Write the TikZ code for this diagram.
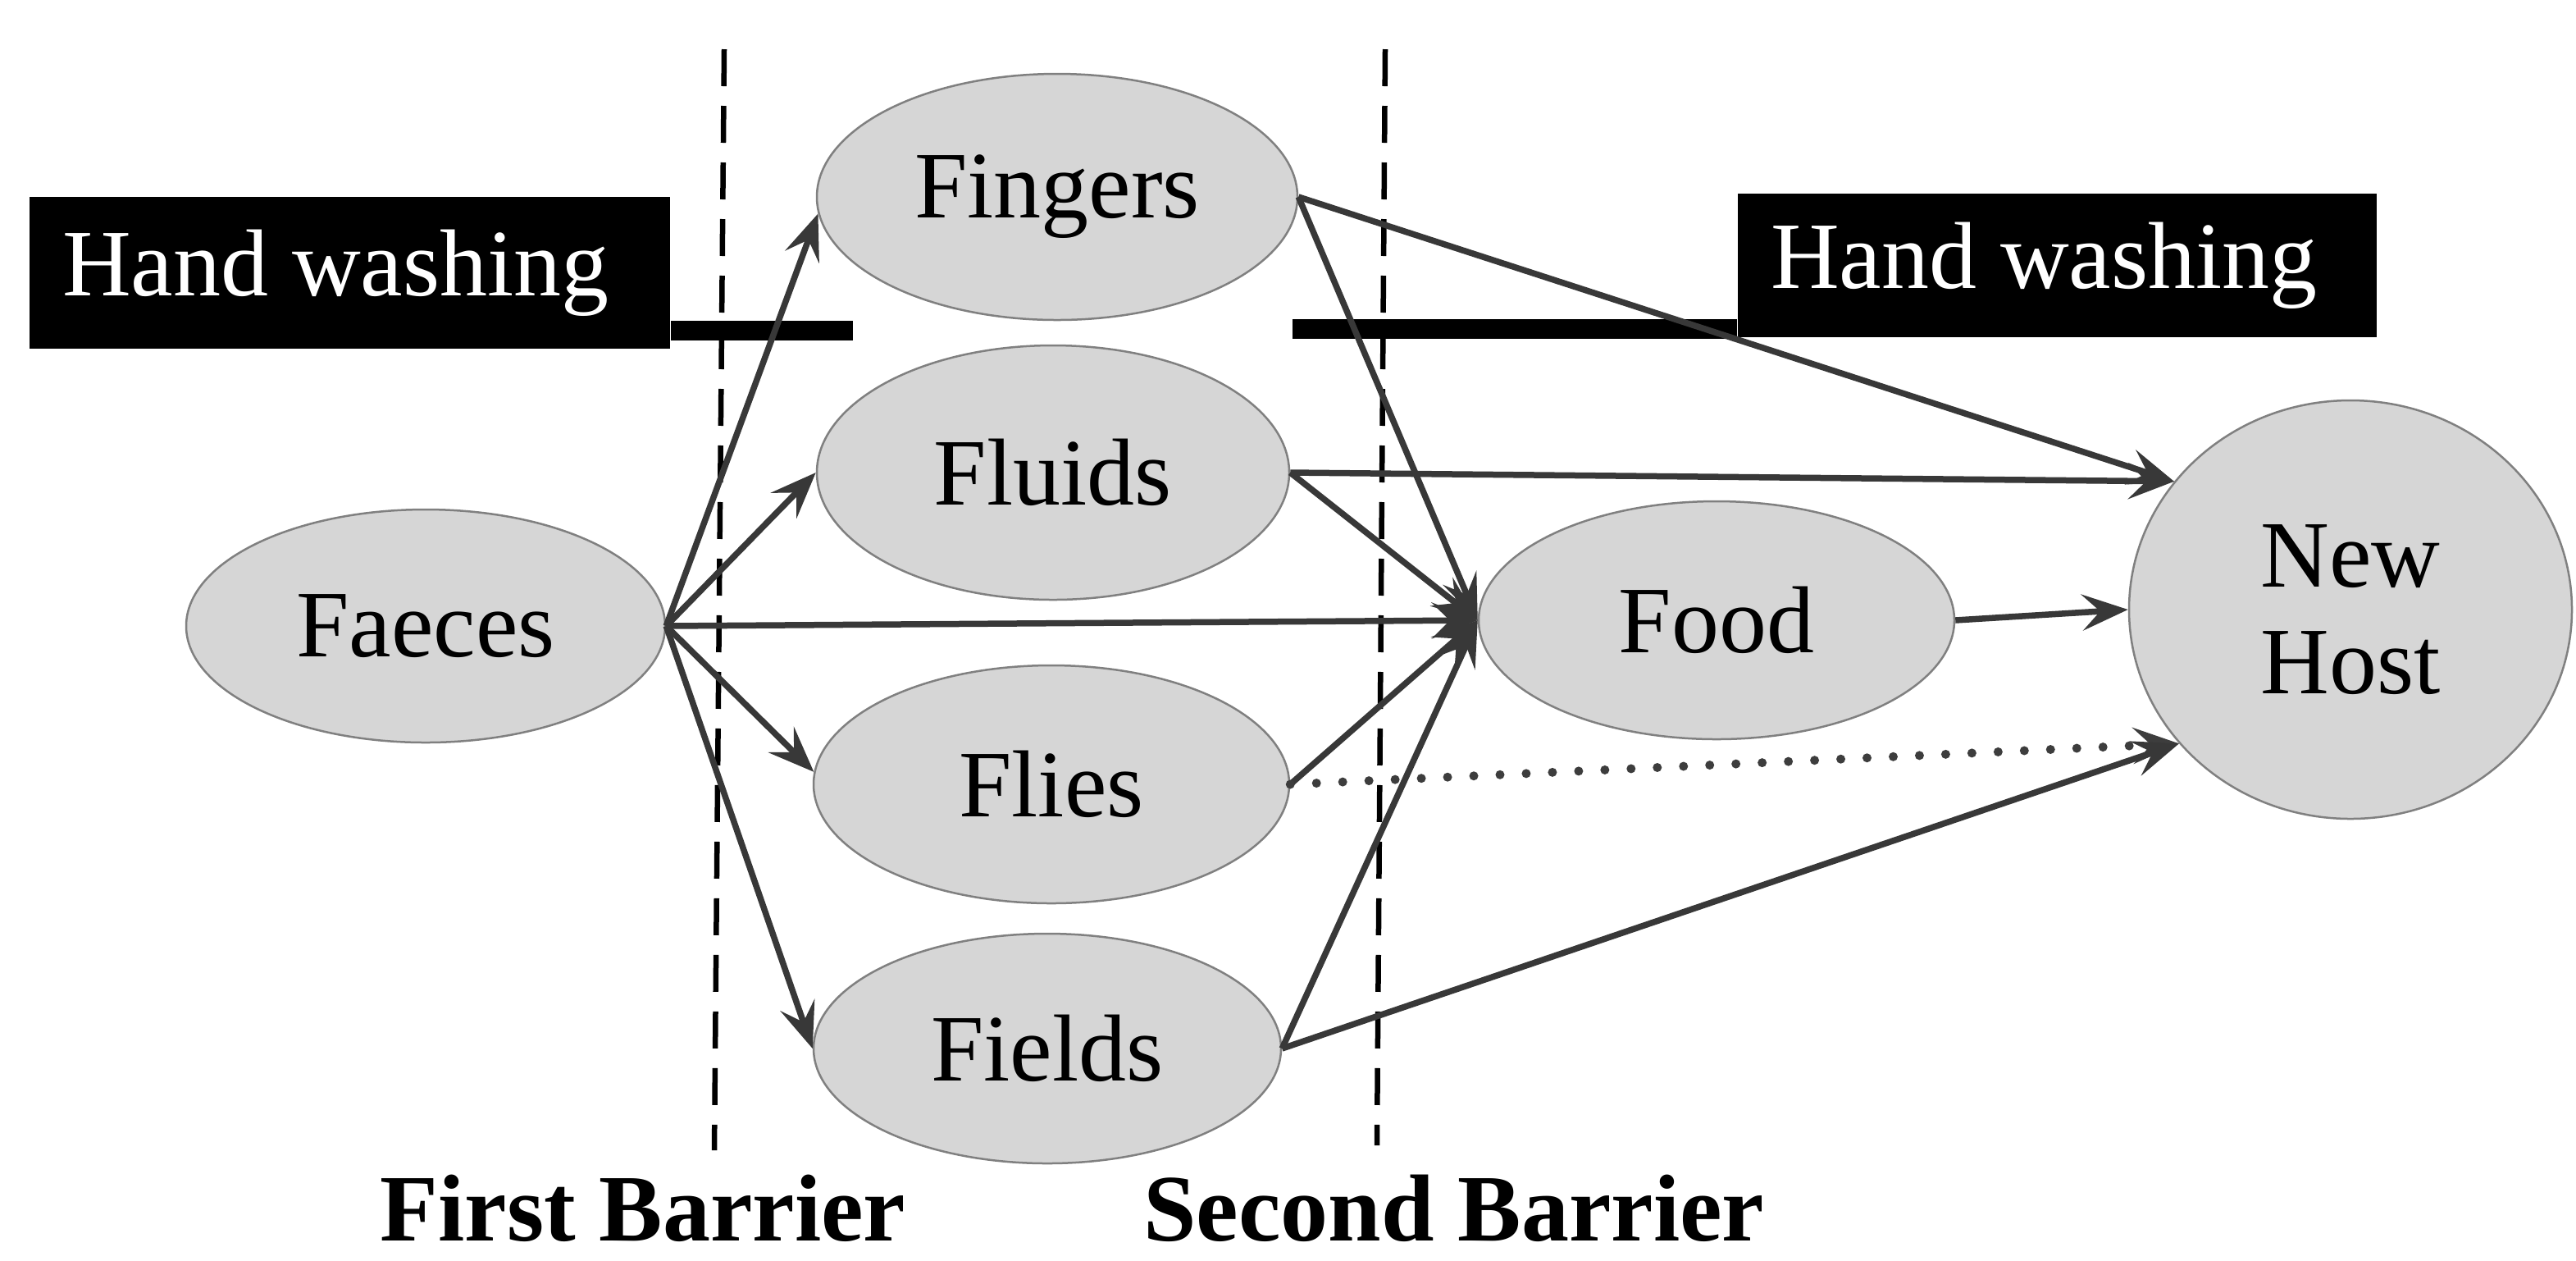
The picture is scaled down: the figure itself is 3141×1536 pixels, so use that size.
\documentclass[tikz,border=0pt]{standalone}
\usepackage{fontspec}
\setmainfont{Liberation Serif}
\usetikzlibrary{shapes.geometric,arrows.meta}
\begin{document}
\begin{tikzpicture}[x=0.1mm,y=-0.1mm,
  txt/.style={font=\fontsize{33}{37}\selectfont},
  blob/.style={ellipse, draw=black!50, line width=0.25mm, fill=black!16, inner sep=0pt, txt, align=center},
  tip/.style={-{Stealth[length=5.6mm,width=4.4mm,inset=2.2mm]}},
  conn/.style={draw=black!78, line width=0.75mm, tip},
  dotconn/.style={draw=black!76, line width=1.1mm, line cap=round, dash pattern=on 0pt off 3.2mm, tip},
  barrier/.style={draw=black, line width=0.65mm, dash pattern=on 4.5mm off 2.4mm},
  hwbox/.style={fill=black, text=white, inner ysep=0pt, inner xsep=4mm, align=flush left, txt},
  barlabel/.style={anchor=base west, font=\fontsize{33}{37}\selectfont\bfseries}]
\useasboundingbox (0,0) rectangle (3141,1536);
\fill[white] (0,0) rectangle (3141,1536);

% hand washing boxes and bars
\node[hwbox, text width=70.1mm, minimum height=18.5mm] (hw1) at (426.5,332.5) {Hand washing};
\node[hwbox, text width=69.9mm, minimum height=17.5mm] (hw2) at (2508.5,323.5) {Hand washing};
\fill[black] (hw1.east |- 0,391) rectangle (1040,415);
\fill[black] (1576,389) rectangle (hw2.west |- 0,413);

% barriers
\coordinate (b1top) at (883,60);
\coordinate (b1bot) at (871,1402);
\coordinate (b2top) at (1689,60);
\coordinate (b2bot) at (1679,1396);
\draw[barrier] (b1top) -- (b1bot);
\draw[barrier] (b2top) -- (b2bot);

% nodes
\node[blob, minimum width=58.4mm, minimum height=28.4mm] (faeces) at (519,763) {Faeces};
\node[blob, minimum width=58.6mm, minimum height=30mm] (fingers) at (1289,240) {Fingers};
\node[blob, minimum width=57.6mm, minimum height=31mm] (fluids) at (1284,576) {Fluids};
\node[blob, minimum width=58mm, minimum height=29mm] (flies) at (1282,956) {Flies};
\node[blob, minimum width=57mm, minimum height=28mm] (fields) at (1277,1278) {Fields};
\node[blob, minimum width=58mm, minimum height=29mm] (food) at (2093,756) {Food};
\node[blob, minimum width=54mm, minimum height=51mm] (newhost) at (2866,743) {New\\Host};

% connectors
\draw[conn] (faeces.east) -- (fingers.184);
\draw[conn] (faeces.east) -- (fluids.west);
\draw[conn] (faeces.east) -- (food.west);
\draw[conn] (faeces.east) -- (flies.177);
\draw[conn] (faeces.east) -- (fields.west);
\draw[conn] (fingers.east) -- (newhost.144);
\draw[conn] (fingers.east) -- (food.west);
\draw[conn] (fluids.east) -- (newhost.144);
\draw[conn] (fluids.east) -- (food.west);
\draw[conn] (flies.east) -- (food.west);
\draw[conn] (fields.east) -- (food.west);
\draw[dotconn] (flies.east) -- (newhost.218);
\draw[conn] (fields.east) -- (newhost.218);
\draw[conn] (food.east) -- (newhost.west);

% labels
\node[barlabel] (lab1) at (451,1512) {First Barrier};
\node[barlabel] (lab2) at (1382,1512) {Second Barrier};
\end{tikzpicture}
\end{document}
